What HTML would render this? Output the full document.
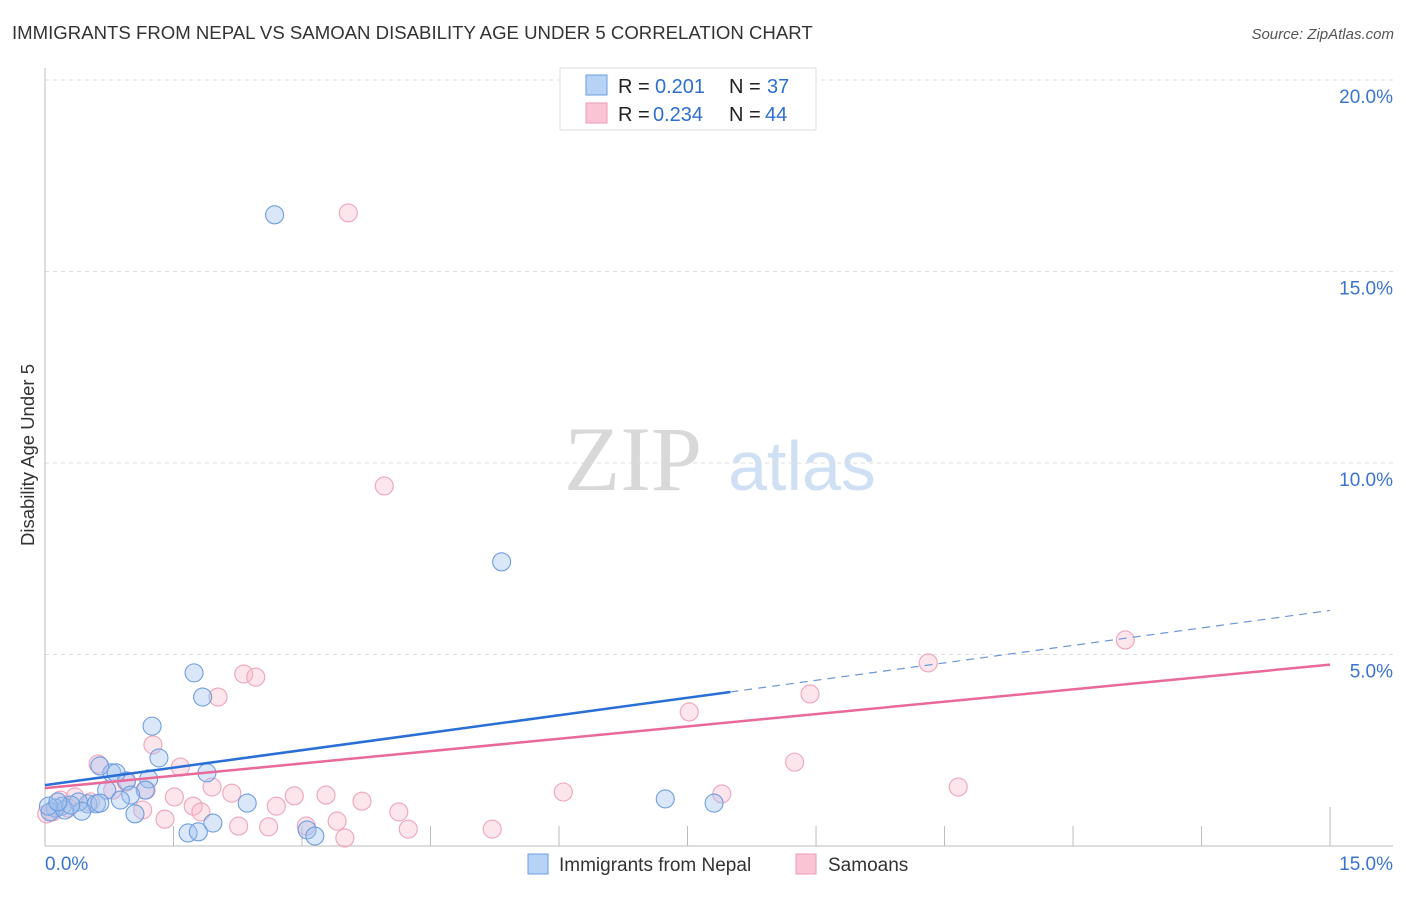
<!DOCTYPE html>
<html><head><meta charset="utf-8"><style>
body{margin:0;background:#fff;font-family:"Liberation Sans",sans-serif;}
</style></head><body>
<svg id="chart" width="1406" height="892" xmlns="http://www.w3.org/2000/svg" style="font-family:'Liberation Sans',sans-serif">
<text x="12" y="39" font-size="18.6" fill="#333">IMMIGRANTS FROM NEPAL VS SAMOAN DISABILITY AGE UNDER 5 CORRELATION CHART</text>
<text x="1394" y="39" font-size="15" fill="#555" text-anchor="end" font-style="italic">Source: ZipAtlas.com</text>
<text transform="translate(34,455) rotate(-90)" font-size="18.5" fill="#333" text-anchor="middle">Disability Age Under 5</text>
<g>
<text x="633" y="490" font-size="92" font-family="'Liberation Serif',serif" fill="#d8d8d8" text-anchor="middle">ZIP</text>
<text x="802" y="490" font-size="70" fill="#cfe0f4" text-anchor="middle">atlas</text>
</g>
<g id="grid"></g>
<g id="marks"></g>
<g id="lines"></g>
<g>
<rect x="560" y="68" width="256" height="62" fill="#fff" stroke="#ddd"/>
<rect x="586" y="75" width="21" height="20" fill="#b7d2f5" stroke="#6a9ee0"/>
<rect x="586" y="103" width="21" height="20" fill="#fac4d4" stroke="#ec9ab4"/>
<text x="618" y="93" font-size="20" fill="#222">R =</text>
<text x="655" y="93" font-size="20" fill="#2f6fd0">0.201</text>
<text x="729" y="93" font-size="20" fill="#222">N =</text>
<text x="767" y="93" font-size="20" fill="#2f6fd0">37</text>
<text x="618" y="121" font-size="20" fill="#222">R =</text>
<text x="653" y="121" font-size="20" fill="#2f6fd0">0.234</text>
<text x="729" y="121" font-size="20" fill="#222">N =</text>
<text x="765" y="121" font-size="20" fill="#2f6fd0">44</text>
</g>
<g>
<rect x="528" y="854" width="20" height="20" fill="#b7d2f5" stroke="#6a9ee0"/>
<text x="559" y="871" font-size="19" fill="#333">Immigrants from Nepal</text>
<rect x="796" y="854" width="20" height="20" fill="#fac4d4" stroke="#ec9ab4"/>
<text x="828" y="871" font-size="19" fill="#333">Samoans</text>
</g>
</svg>
<script>
const yTicks=[5,10,15,20];
const yTickLabels=["5.0%","10.0%","15.0%","20.0%"];
const xTicks=[1.5,3,4.5,6,7.5,9,10.5,12,13.5,15];
const nepalX=[2.68,5.33,1.74,1.84,1.25,1.33,0.78,0.64,0.95,0.83,1.21,1.17,1.00,0.72,1.89,0.88,0.50,0.60,0.39,0.20,0.12,0.06,0.23,0.43,1.05,2.36,1.67,1.79,1.96,3.06,3.15,7.24,7.81,0.30,0.64,0.04,0.15];
const nepalY=[16.48,7.42,4.52,3.89,3.13,2.30,1.91,2.09,1.70,1.91,1.75,1.46,1.33,1.46,1.91,1.20,1.10,1.10,1.15,1.04,0.99,0.89,0.94,0.91,0.84,1.12,0.34,0.37,0.60,0.42,0.26,1.23,1.12,1.07,1.12,1.04,1.15];
const samoanX=[3.54,3.96,12.61,10.31,2.32,2.46,2.02,8.93,7.52,1.26,0.62,1.58,8.75,0.95,1.95,0.79,1.18,1.51,2.18,2.91,3.28,3.70,6.05,10.66,7.90,1.73,2.70,1.82,1.14,1.40,2.26,2.61,3.05,3.41,4.13,4.24,5.22,3.50,0.18,0.35,0.09,0.02,0.53,0.27];
const samoanY=[16.53,9.40,5.38,4.78,4.49,4.41,3.89,3.97,3.50,2.64,2.14,2.06,2.19,1.67,1.54,1.46,1.46,1.28,1.38,1.31,1.33,1.17,1.41,1.54,1.36,1.04,1.04,0.89,0.94,0.70,0.52,0.50,0.52,0.65,0.89,0.44,0.44,0.21,1.20,1.28,0.89,0.84,1.15,0.99];
const nepalFit=[1.59,0.304];
const samoanFit=[1.51,0.215];
const nepalSolidEnd=8.0;
const NS="http://www.w3.org/2000/svg";
const X=v=>45+v*85.67, Y=v=>846-v*38.3;
function mk(tag,attrs,parent){const e=document.createElementNS(NS,tag);for(const k in attrs)e.setAttribute(k,attrs[k]);parent.appendChild(e);return e;}
const grid=document.getElementById('grid'),marks=document.getElementById('marks'),lines=document.getElementById('lines');
yTicks.forEach((t,i)=>{
 const l=mk('line',{x1:45,x2:1393,y1:Y(t),y2:Y(t),stroke:'#ddd','stroke-dasharray':'4,4'},grid);
 
 
 const tx=mk('text',{x:1393,y:Y(t)+23,'font-size':19,fill:'#3a74d0','text-anchor':'end'},grid);
 tx.textContent=yTickLabels[i];
 
 
});
xTicks.forEach((t,i)=>{
 const l=mk('line',{x1:X(t),x2:X(t),y1:(i==xTicks.length-1?807:826),y2:846,stroke:'#bbb'},grid);
 
 
});
let a=mk('line',{x1:45,x2:45,y1:68,y2:846,stroke:'#bbb'},grid);

a=mk('line',{x1:45,x2:1393,y1:846,y2:846,stroke:'#bbb'},grid);

let t0=mk('text',{x:45,y:870,'font-size':19,fill:'#3a74d0'},grid);t0.textContent='0.0%';

let t1=mk('text',{x:1393,y:870,'font-size':19,fill:'#3a74d0','text-anchor':'end'},grid);t1.textContent='15.0%';

samoanX.forEach((v,i)=>{
 const c=mk('circle',{cx:X(v),cy:Y(samoanY[i]),r:9,fill:'rgba(248,180,200,0.35)',stroke:'#eda4bc','stroke-width':1.1},marks);
 
 
});
nepalX.forEach((v,i)=>{
 const c=mk('circle',{cx:X(v),cy:Y(nepalY[i]),r:9,fill:'rgba(160,196,240,0.4)',stroke:'#6f9ede','stroke-width':1.1},marks);
 
 
});
const f=(p,x)=>p[0]+p[1]*x;
let ln=mk('line',{x1:X(0),y1:Y(f(samoanFit,0)),x2:X(15),y2:Y(f(samoanFit,15)),stroke:'#e8699a','stroke-width':2.5},lines);

ln=mk('line',{x1:X(0),y1:Y(f(nepalFit,0)),x2:X(nepalSolidEnd),y2:Y(f(nepalFit,nepalSolidEnd)),stroke:'#2a6fd6','stroke-width':2.5},lines);

ln=mk('line',{x1:X(nepalSolidEnd),y1:Y(f(nepalFit,nepalSolidEnd)),x2:X(15),y2:Y(f(nepalFit,15)),stroke:'#6a96d6','stroke-width':1.2,'stroke-dasharray':'8,6'},lines);

</script>
</body></html>
